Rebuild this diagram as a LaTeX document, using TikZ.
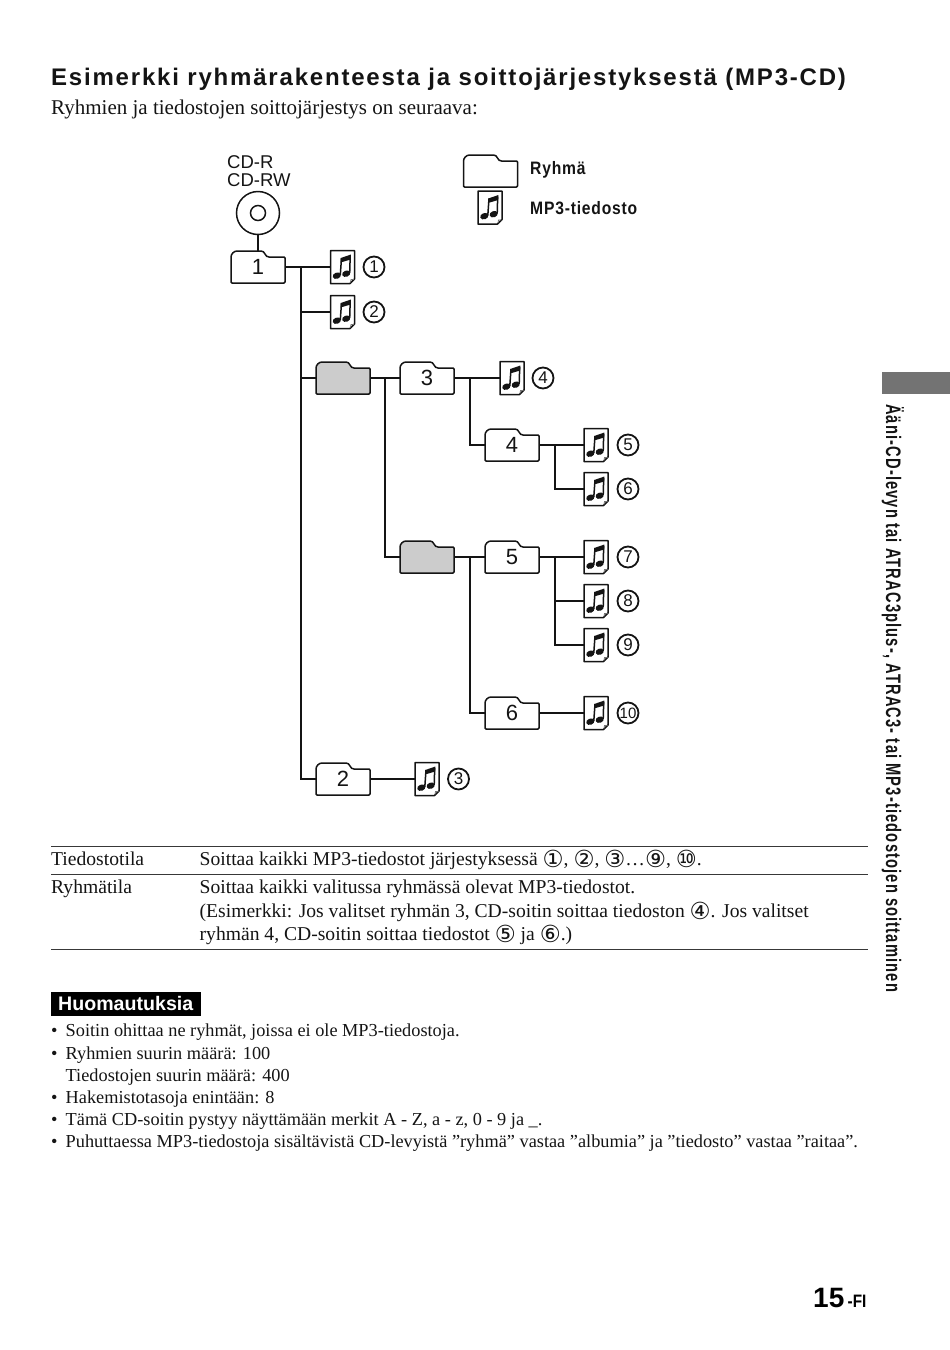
\documentclass[tikz,border=0pt]{standalone}
\usepackage{fontspec}
\setmainfont{Liberation Serif}
\setsansfont{Liberation Sans}
\newfontfamily\cnfont{DejaVu Sans}
\newfontfamily\headfont[LetterSpace=7.5]{Liberation Sans}
\newfontfamily\narrowfont[FakeStretch=0.70,LetterSpace=5.4]{Liberation Sans}
\newfontfamily\pagefont[FakeStretch=0.85]{Liberation Sans}
\newfontfamily\legendfont[FakeStretch=0.87,LetterSpace=4.4]{Liberation Sans}
\newcommand{\fs}[1]{\fontsize{#1}{#1}\selectfont}
\newcommand{\cn}[1]{\raisebox{-2pt}{\cnfont\fs{23.5}#1}}
\definecolor{ink}{gray}{0.08}
\definecolor{greyfolder}{gray}{0.80}
\definecolor{tabmark}{gray}{0.45}
\tikzset{
  x=1pt,y=-1pt,
  outline/.style={draw=ink,line width=1.5pt,line join=round},
  link/.style={draw=ink,line width=2pt},
  folderbox/.style={inner sep=0pt,minimum width=54pt,minimum height=32pt,font=\sffamily\fs{22},text=ink},
  filebox/.style={inner sep=0pt,minimum width=24pt,minimum height=33pt},
  numcircle/.style={circle,draw=ink,line width=1.8pt,inner sep=0pt,minimum size=21pt,font=\sffamily\fs{17},text=ink},
  bodytext/.style={anchor=base west,inner sep=0pt,text=ink,font=\fs{19.6}},
  notetext/.style={anchor=base west,inner sep=0pt,text=ink,font=\fs{18.3}},
  labeltext/.style={anchor=base west,inner sep=0pt,text=ink,font=\sffamily\fs{18.5}},
  legendtext/.style={anchor=base west,inner sep=0pt,text=ink,font=\legendfont\bfseries\fs{18}},
  rulel/.style={draw=ink!85,line width=1pt},
}
% #1 name, #2 x centre, #3 y centre, #4 label, #5 fill
\newcommand{\folder}[5]{%
  \node[folderbox] (#1) at (#2,#3) {};
  \begin{scope}[shift={(#1.center)}]
    \draw[outline,fill=#5] (-26,16) -- (-27,15) -- (-27,-10) .. controls (-27,-13) and (-24,-16) .. (-21,-16)
      -- (3,-16) .. controls (5,-16) and (6,-15) .. (7,-13) .. controls (8,-11) and (9,-10) .. (11,-10)
      -- (26,-10) -- (27,-9) -- (27,15) -- (26,16) -- cycle;
  \end{scope}
  \node[folderbox] at (#1.center) {#4};
}
% #1 name, #2 x centre, #3 y centre
\newcommand{\musicfile}[3]{%
  \node[filebox] (#1) at (#2,#3) {};
  \begin{scope}[shift={(#1.center)}]
    \draw[outline,fill=white] (-12,-16.5) -- (12,-16.5) -- (12,12) -- (7.5,16.5) -- (-12,16.5) -- cycle;
    \draw[draw=tabmark,line width=.8pt] (8,15.5) -- (8.5,12.5) -- (11.5,12.5);
    \fill[ink,rotate around={20:(-5.7,8.7)}] (-5.7,8.7) ellipse (4.2 and 3.1);
    \fill[ink,rotate around={20:(3.7,6.7)}] (3.7,6.7) ellipse (4.2 and 3.1);
    \draw[ink,line width=1.5pt] (-2.2,8) -- (-1,-9);
    \draw[ink,line width=1.5pt] (7.2,6) -- (7.7,-11);
    \fill[ink] (-1.7,-9) -- (8.4,-12.5) -- (8.2,-7.5) -- (-2,-4.5) -- cycle;
  \end{scope}
}
\begin{document}
\begin{tikzpicture}
\useasboundingbox (0,0) rectangle (950,1350);
% heading
\node[anchor=base west,inner sep=0pt,text=ink,font=\headfont\bfseries\fs{24}] (head) at (51,85.5) {Esimerkki ryhmärakenteesta ja soittojärjestyksestä (MP3-CD)};
\node[anchor=base west,inner sep=0pt,text=ink,font=\fs{21}] (sub) at (51,114) {Ryhmien ja tiedostojen soittojärjestys on seuraava:};
% legend
\node[labeltext] (cdr) at (227,168) {CD-R};
\node[labeltext] (cdrw) at (227,186) {CD-RW};
\folder{legfolder}{490.5}{171}{}{white}
\musicfile{legfile}{490}{207.5}
\node[legendtext] (legr) at (530,174) {Ryhmä};
\node[legendtext] (legm) at (530,214.5) {MP3-tiedosto};
% disc
\node[circle,draw=ink,line width=1.5pt,minimum size=43pt,inner sep=0pt] (disc) at (258,213) {};
\node[circle,draw=ink,line width=1.5pt,minimum size=15pt,inner sep=0pt] (hole) at (258,213) {};
% folders
\folder{f1}{258}{267}{1}{white}
\folder{ga}{343}{378}{}{greyfolder}
\folder{f3}{427}{378}{3}{white}
\folder{f4}{512}{445}{4}{white}
\folder{gb}{427}{557}{}{greyfolder}
\folder{f5}{512}{557}{5}{white}
\folder{f6}{512}{713}{6}{white}
\folder{f2}{343}{779}{2}{white}
% files
\musicfile{n1}{342.5}{267}
\musicfile{n2}{342.5}{312}
\musicfile{n3}{427}{779}
\musicfile{n4}{512}{378}
\musicfile{n5}{596}{445}
\musicfile{n6}{596}{489}
\musicfile{n7}{596}{557}
\musicfile{n8}{596}{601}
\musicfile{n9}{596}{645}
\musicfile{n10}{596}{713}
% number circles
\node[numcircle] (c1) at (374,267) {1};
\node[numcircle] (c2) at (374,312) {2};
\node[numcircle] (c3) at (458.5,779) {3};
\node[numcircle] (c4) at (543,378) {4};
\node[numcircle] (c5) at (628,445) {5};
\node[numcircle] (c6) at (628,489) {6};
\node[numcircle] (c7) at (628,557) {7};
\node[numcircle] (c8) at (628,601) {8};
\node[numcircle] (c9) at (628,645) {9};
\node[numcircle,font=\sffamily\fs{15}] (c10) at (628,713) {10};
% junctions
\coordinate (ta) at (301,267);
\coordinate (tb) at (301,312);
\coordinate (tc) at (301,378);
\coordinate (td) at (301,779);
\coordinate (ba) at (385,378);
\coordinate (bb) at (385,557);
\coordinate (ca) at (470,378);
\coordinate (cb) at (470,445);
\coordinate (da) at (470,557);
\coordinate (db) at (470,713);
\coordinate (ea) at (555,445);
\coordinate (eb) at (555,489);
\coordinate (fa) at (555,557);
\coordinate (fb) at (555,601);
\coordinate (fc) at (555,645);
% connectors
\draw[link,line width=2.5pt] (disc.south) -- (258,251);
\draw[link] (f1.east) -- (n1.west);
\draw[link,line cap=rect] (ta) -- (tb) -- (tc) -- (td);
\draw[link] (tb) -- (n2.west);
\draw[link] (tc) -- (ga.west);
\draw[link] (td) -- (f2.west);
\draw[link] (f2.east) -- (n3.west);
\draw[link] (ga.east) -- (f3.west);
\draw[link,line cap=rect] (ba) -- (bb);
\draw[link] (bb) -- (gb.west);
\draw[link] (f3.east) -- (n4.west);
\draw[link,line cap=rect] (ca) -- (cb);
\draw[link] (cb) -- (f4.west);
\draw[link] (f4.east) -- (n5.west);
\draw[link,line cap=rect] (ea) -- (eb);
\draw[link] (eb) -- (n6.west);
\draw[link] (gb.east) -- (f5.west);
\draw[link,line cap=rect] (da) -- (db);
\draw[link] (db) -- (f6.west);
\draw[link] (f5.east) -- (n7.west);
\draw[link,line cap=rect] (fa) -- (fb) -- (fc);
\draw[link] (fb) -- (n8.west);
\draw[link] (fc) -- (n9.west);
\draw[link,line width=1.5pt] (f6.east) -- (n10.west);
% table
\coordinate (r1a) at (51,846); \coordinate (r1b) at (868,846);
\coordinate (r2a) at (51,874); \coordinate (r2b) at (868,874);
\coordinate (r3a) at (51,949); \coordinate (r3b) at (868,949);
\draw[rulel] (r1a) -- (r1b);
\draw[rulel] (r2a) -- (r2b);
\draw[rulel] (r3a) -- (r3b);
\node[bodytext] (t1) at (51,865) {Tiedostotila};
\node[bodytext] (t2) at (199.5,865) {Soittaa kaikki MP3-tiedostot järjestyksessä \cn{①}, \cn{②}, \cn{③}…\cn{⑨}, \cn{⑩}.};
\node[bodytext] (t3) at (51,893) {Ryhmätila};
\node[bodytext] (t4) at (199.5,893) {Soittaa kaikki valitussa ryhmässä olevat MP3-tiedostot.};
\node[bodytext] (t5) at (199.5,917) {(Esimerkki: Jos valitset ryhmän 3, CD-soitin soittaa tiedoston \cn{④}. Jos valitset};
\node[bodytext] (t6) at (199.5,940) {ryhmän 4, CD-soitin soittaa tiedostot \cn{⑤} ja \cn{⑥}.)};
% notes
\node[fill=black,inner sep=0pt,minimum width=150pt,minimum height=24pt] (notebar) at (126,1004) {};
\node[anchor=base west,inner sep=0pt,text=white,font=\sffamily\bfseries\fs{19.6}] (notehead) at (58,1010) {Huomautuksia};
\node[notetext] (b1) at (51,1036) {•};
\node[notetext] (l1) at (65.5,1036) {Soitin ohittaa ne ryhmät, joissa ei ole MP3-tiedostoja.};
\node[notetext] (b2) at (51,1059) {•};
\node[notetext] (l2) at (65.5,1059) {Ryhmien suurin määrä: 100};
\node[notetext] (l3) at (65.5,1081) {Tiedostojen suurin määrä: 400};
\node[notetext] (b4) at (51,1103) {•};
\node[notetext] (l4) at (65.5,1103) {Hakemistotasoja enintään: 8};
\node[notetext] (b5) at (51,1125) {•};
\node[notetext] (l5) at (65.5,1125) {Tämä CD-soitin pystyy näyttämään merkit A - Z, a - z, 0 - 9 ja \_.};
\node[notetext] (b6) at (51,1147) {•};
\node[notetext] (l6) at (65.5,1147) {Puhuttaessa MP3-tiedostoja sisältävistä CD-levyistä ”ryhmä” vastaa ”albumia” ja ”tiedosto” vastaa ”raitaa”.};
% side tab
\node[fill=black!55,inner sep=0pt,minimum width=68pt,minimum height=22pt] (tab) at (916,383) {};
\node[anchor=base west,rotate=-90,inner sep=0pt,text=ink,font=\narrowfont\bfseries\fs{21}] (side) at (886,404) {Ääni-CD-levyn tai ATRAC3plus-, ATRAC3- tai MP3-tiedostojen soittaminen};
% page number
\node[anchor=base west,inner sep=0pt,text=black,font=\sffamily\bfseries\fs{28}] (page) at (813,1307.5) {15};
\node[anchor=base west,inner sep=0pt,text=black,font=\pagefont\bfseries\fs{18}] (pagefi) at (847.5,1307) {-FI};
\end{tikzpicture}
\end{document}
